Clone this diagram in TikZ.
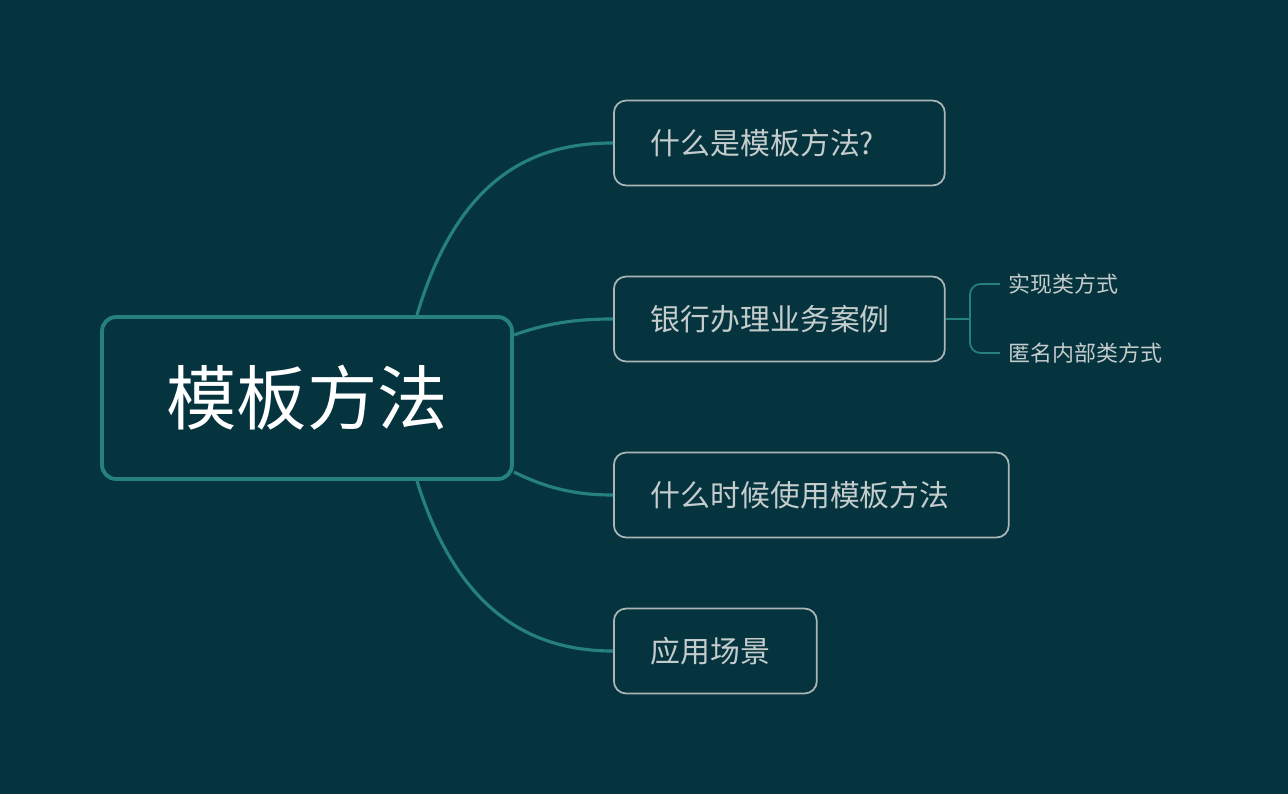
\documentclass[tikz,border=0pt]{standalone}
\usepackage{fontspec}
\setmainfont{Noto Sans CJK SC}
\usetikzlibrary{positioning}
\definecolor{my_bg}{RGB}{5, 52, 63}
\definecolor{my_teal}{RGB}{38, 128, 124}
\definecolor{my_gray}{RGB}{170, 182, 182}
\definecolor{my_text}{RGB}{196, 204, 204}
\tikzset{
  rootbox/.style = {draw=my_teal, line width=2.2pt, rounded corners=8pt, text=white,
  minimum width=8.2cm, minimum height=3.24cm, font=\fontsize{40}{40}\selectfont},
  topicbox/.style = {draw=my_gray, line width=1pt, rounded corners=7pt, text=my_text,
  anchor=west, minimum height=1.7cm, inner xsep=0.74cm, align=left, font=\fontsize{17}{17}\selectfont},
  subtopic/.style = {text=my_text, anchor=west, inner sep=0pt, font=\fontsize{12.5}{12.5}\selectfont},
  branch/.style = {draw=my_teal, line width=1.8pt},
  twig/.style = {draw=my_teal, line width=1pt, rounded corners=6pt}
}
\begin{document}
\begin{tikzpicture}[x=0.02cm, y=-0.02cm]
  \fill[my_bg] (0,0) rectangle (1288,794);
  \node [rootbox] (root) at (307,398) {模板方法};
  \node [topicbox, text width=5.14cm] (what) at (613,143) {什么是模板方法?};
  \node [topicbox, text width=5.14cm] (bank) at (613,319) {银行办理业务案例};
  \node [topicbox, text width=6.42cm] (when) at (613,495) {什么时候使用模板方法};
  \node [topicbox, text width=2.58cm] (scene) at (613,651) {应用场景};
  \node [subtopic] (impl) at (1008,284) {实现类方式};
  \node [subtopic] (anon) at (1008,353) {匿名内部类方式};
  % branches from the root
  \draw [branch] ([xshift=2.2cm]root.north) .. controls (460,170) and (540,143) .. (what.west);
  \draw [branch] ([yshift=1.26cm]root.east) .. controls (550,322) and (580,319) .. (bank.west);
  \draw [branch] ([yshift=-1.48cm]root.east) .. controls (550,490) and (580,495) .. (when.west);
  \draw [branch] ([xshift=2.2cm]root.south) .. controls (460,620) and (540,651) .. (scene.west);
  % sub topics
  \coordinate (fork) at (970,319);
  \draw [twig] (bank.east) -- (fork);
  \draw [twig] (fork) |- ([xshift=-0.16cm]impl.west);
  \draw [twig] (fork) |- ([xshift=-0.16cm]anon.west);
\end{tikzpicture}
\end{document}
